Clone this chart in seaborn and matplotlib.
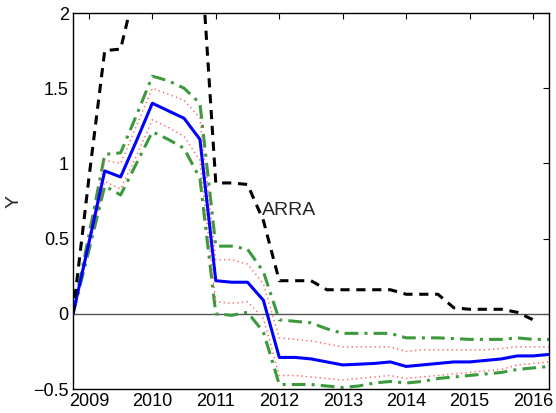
import numpy as np
import pandas as pd
import matplotlib
matplotlib.use("Agg")
import matplotlib.pyplot as plt
import seaborn as sns

# Quarterly dates, 2008Q4 .. 2016Q2 (as fractional years)
quarters = [2008.75 + 0.25 * i for i in range(31)]

response = [0.00, 0.47, 0.95, 0.91, 1.15, 1.40, 1.35, 1.30, 1.16, 0.22,
            0.21, 0.21, 0.09, -0.29, -0.29, -0.30, -0.32, -0.34, -0.335, -0.33,
            -0.32, -0.35, -0.34, -0.33, -0.32, -0.32, -0.31, -0.30, -0.28, -0.28,
            -0.27]

band68_upper = [0.00, 0.50, 1.02, 1.00, 1.25, 1.50, 1.46, 1.42, 1.30, 0.36,
                0.36, 0.33, 0.20, -0.16, -0.17, -0.18, -0.20, -0.22, -0.22, -0.22,
                -0.22, -0.25, -0.24, -0.24, -0.24, -0.24, -0.24, -0.23, -0.22, -0.22,
                -0.22]
band68_lower = [0.00, 0.44, 0.88, 0.83, 1.05, 1.29, 1.24, 1.18, 1.02, 0.08,
                0.07, 0.08, -0.03, -0.41, -0.41, -0.42, -0.43, -0.44, -0.43, -0.42,
                -0.41, -0.43, -0.42, -0.41, -0.40, -0.39, -0.38, -0.37, -0.34, -0.33,
                -0.32]

band90_upper = [0.00, 0.52, 1.06, 1.07, 1.32, 1.58, 1.55, 1.50, 1.40, 0.45,
                0.45, 0.43, 0.28, -0.04, -0.05, -0.06, -0.10, -0.13, -0.13, -0.13,
                -0.13, -0.16, -0.16, -0.16, -0.165, -0.17, -0.17, -0.17, -0.16, -0.17,
                -0.17]
band90_lower = [0.00, 0.42, 0.85, 0.79, 1.00, 1.21, 1.16, 1.10, 0.90, 0.00,
                -0.01, 0.01, -0.12, -0.47, -0.47, -0.47, -0.48, -0.49, -0.48, -0.46,
                -0.45, -0.46, -0.45, -0.43, -0.42, -0.41, -0.40, -0.39, -0.37, -0.36,
                -0.35]

arra = [0.00, 0.90, 1.75, 1.76, 2.20, 2.60, 2.60, 2.60, 2.50, 0.87,
        0.87, 0.86, 0.62, 0.22, 0.22, 0.22, 0.16, 0.16, 0.16, 0.16,
        0.16, 0.13, 0.13, 0.13, 0.04, 0.03, 0.03, 0.03, 0.01, -0.04,
        np.nan]

year_ticks = [2009, 2010, 2011, 2012, 2013, 2014, 2015, 2016]
y_ticks = [-0.5, 0, 0.5, 1, 1.5, 2]
y_tick_labels = ["\u22120.5", "0", "0.5", "1", "1.5", "2"]

sns.set_style("white")
plt.rcParams["font.family"] = ["Liberation Sans", "DejaVu Sans"]

fig = plt.figure(figsize=(5.56, 4.13), dpi=100)
ax = fig.add_axes([0.1313, 0.0581, 0.8561, 0.9104])

df = pd.DataFrame({"t": quarters, "resp": response,
                   "u68": band68_upper, "l68": band68_lower,
                   "u90": band90_upper, "l90": band90_lower,
                   "arra": arra})

ax.axhline(0, color="#555555", lw=1.0, zorder=1)

green = "#3c9a3c"
red = "#ff5a5a"
for col in ["u90", "l90"]:
    sns.lineplot(data=df, x="t", y=col, ax=ax, color=green, lw=2.2,
                 linestyle=(0, (4.5, 2.0, 1.0, 2.0)), zorder=2)
for col in ["u68", "l68"]:
    sns.lineplot(data=df, x="t", y=col, ax=ax, color=red, lw=1.1,
                 linestyle=(0, (0.8, 2.2)), zorder=3)
sns.lineplot(data=df, x="t", y="resp", ax=ax, color="#0000ff", lw=2.2, zorder=4)
sns.lineplot(data=df, x="t", y="arra", ax=ax, color="black", lw=2.2,
             linestyle=(0, (3.0, 2.2)), zorder=5)

ax.text(2011.72, 0.69, "ARRA", fontsize=14, va="center", ha="left")

ax.set_xlim(2008.75, 2016.25)
ax.set_ylim(-0.5, 2)
ax.set_xticks(year_ticks)
ax.set_xticklabels([str(y) for y in year_ticks])
ax.set_yticks(y_ticks)
ax.set_yticklabels(y_tick_labels)
ax.set_xlabel("")
ax.set_ylabel("Y", fontsize=14, labelpad=8)

ax.tick_params(direction="in", length=4, width=0.8, top=True, right=True,
               labelsize=13, colors="black", pad=3)
for s in ax.spines.values():
    s.set_color("black")
    s.set_linewidth(1.0)

fig.savefig("out.png", dpi=100)
